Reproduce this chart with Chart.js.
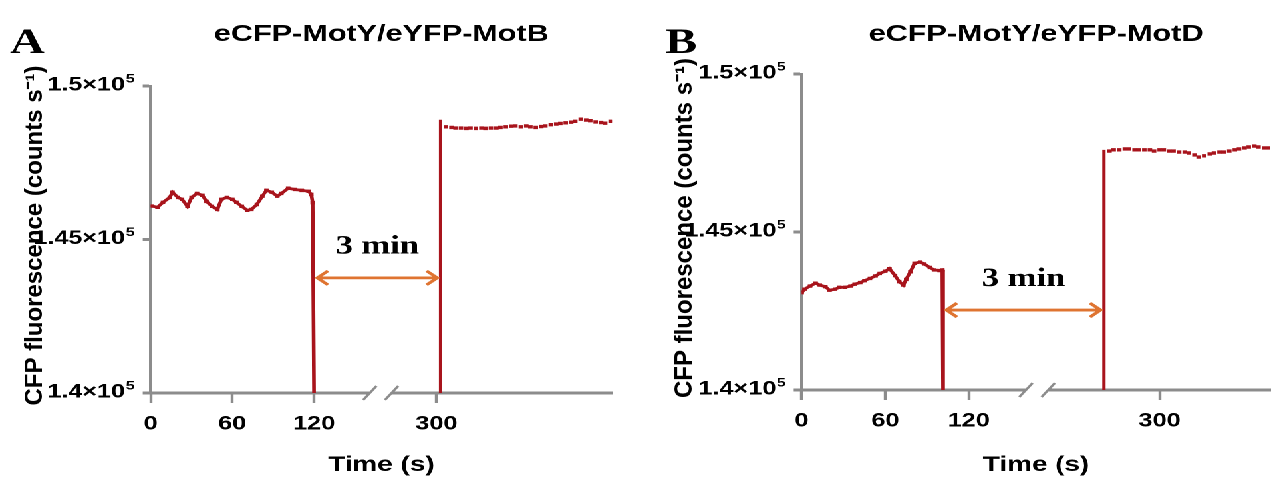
<!DOCTYPE html>
<html>
<head>
<meta charset="utf-8">
<script src="https://cdn.jsdelivr.net/npm/chart.js@4.4.1/dist/chart.umd.min.js"></script>
<style>
  html, body { margin: 0; padding: 0; background: #fff; }
  body { width: 1277px; height: 484px; overflow: hidden; position: relative; }
  /* the source figure is stretched sideways, so draw at 960 wide and widen */
  #stage { position: absolute; left: 0; top: 0; width: 960px; height: 484px;
           transform: scaleX(1.3302); transform-origin: 0 0; }
  #stage canvas { position: absolute; top: 0; width: 480px; height: 484px; }
  #chartA { left: 0; }
  #chartB { left: 480px; }
</style>
</head>
<body>
<div id="stage">
  <canvas id="chartA" width="480" height="484"></canvas>
  <canvas id="chartB" width="480" height="484"></canvas>
</div>
<script>
// ─────────────────────────────────────────────────────────────
// Data (time in s, CFP fluorescence in counts/s)
// ─────────────────────────────────────────────────────────────
const xTickTimes = [0, 60, 120, 300];
const yTickValues = [140000, 145000, 150000];
const yTickLabels = ['1.4×10', '1.45×10', '1.5×10'];
const yTickExponent = '5';

// Panel A: eCFP-MotY/eYFP-MotB
const timesA1 = [1, 5, 9, 14, 16, 20, 23, 27, 30, 34, 38, 41, 45, 49, 52, 56, 60, 63, 67, 71,
                 74, 78, 82, 85, 89, 93, 96, 101, 106, 111, 116, 118, 119];
const valuesA1 = [146090, 146050, 146210, 146370, 146540, 146370, 146310, 146080, 146370, 146500,
                  146440, 146240, 146080, 145980, 146310, 146370, 146310, 146210, 146080, 145950,
                  145980, 146140, 146410, 146600, 146540, 146410, 146500, 146670, 146630, 146600,
                  146570, 146470, 146200];
const timesA2 = [307, 311, 314, 318, 322, 325, 329, 333, 336, 340, 344, 347, 351, 355, 358, 362, 366,
                 369, 373, 377, 380, 384, 388, 391, 395, 399, 402, 406, 410, 413, 417, 421, 424, 428];
const valuesA2 = [148670, 148650, 148630, 148630, 148620, 148630, 148620, 148630, 148620, 148630,
                  148630, 148650, 148670, 148690, 148700, 148670, 148700, 148670, 148650, 148680,
                  148700, 148740, 148760, 148780, 148800, 148820, 148850, 148920, 148890, 148870,
                  148830, 148810, 148790, 148850];
const dropTimeA = 120;
const jumpTimeA = 303;
const jumpTopA = 148900;
const arrowValueA = 143750;

// Panel B: eCFP-MotY/eYFP-MotD
const timesB1 = [0, 2, 6, 10, 13, 17, 20, 24, 27, 31, 35, 38, 42, 45, 49, 53, 56, 60, 63, 67,
                 70, 73, 75, 78, 81, 85, 88, 92, 95, 99, 101];
const valuesB1 = [143080, 143190, 143290, 143380, 143320, 143270, 143160, 143190, 143250, 143250,
                  143290, 143350, 143400, 143460, 143530, 143610, 143690, 143760, 143840, 143620,
                  143430, 143320, 143500, 143740, 144010, 144050, 143990, 143880, 143800, 143780,
                  143800];
const timesB2 = [264, 267, 271, 275, 278, 282, 285, 289, 293, 296, 300, 303, 307, 310, 314, 318, 321,
                 325, 328, 332, 336, 339, 343, 346, 350, 354, 357, 361, 364, 368, 371, 375, 378];
const valuesB2 = [147560, 147600, 147600, 147630, 147630, 147600, 147600, 147600, 147600, 147560,
                  147600, 147600, 147560, 147560, 147530, 147530, 147500, 147440, 147370, 147410,
                  147470, 147500, 147530, 147530, 147560, 147600, 147630, 147660, 147690, 147720,
                  147690, 147660, 147660];
const dropTimeB = 101.5;
const jumpTimeB = 260;
const jumpTopB = 147600;
const arrowValueB = 142530;

// ─────────────────────────────────────────────────────────────
// Look
// ─────────────────────────────────────────────────────────────
const STRETCH = 1277 / 960;
const RED = '#a8141c';
const GREY = '#8c8c8c';
const ORANGE = '#df7431';
const SANS = '"Liberation Sans", Arial, sans-serif';
const SERIF = '"Liberation Serif", "Times New Roman", serif';
const BREAK_AT = 150;          // times past this sit after the axis break
const BREAK_MARKS = [161, 177]; // axis units of the two slashes

Chart.defaults.font.family = SANS;
Chart.defaults.color = '#000';

// map a real time onto the broken axis
function toAxis(t, shift) {
    return t >= BREAK_AT ? t - shift : t;
}

function points(times, values, shift) {
    return times.map((t, i) => ({ x: toAxis(t, shift), y: values[i] }));
}

// y labels with a real superscript, break slashes, "3 min" arrow,
// panel letter and the y title
const decor = {
    id: 'decor',
    afterDraw(chart, args, o) {
        const { ctx, chartArea, scales: { x, y } } = chart;
        ctx.save();
        ctx.fillStyle = '#000';

        // y tick labels: mantissa×10 plus raised exponent
        const xr = chartArea.left - 12;
        yTickValues.forEach((v, i) => {
            const yp = y.getPixelForValue(v);
            ctx.textAlign = 'right';
            ctx.textBaseline = 'alphabetic';
            ctx.font = 'bold 12px ' + SANS;
            const supW = ctx.measureText(yTickExponent).width;
            ctx.fillText(yTickExponent, xr, yp - 3.5);
            ctx.font = 'bold 19px ' + SANS;
            ctx.fillText(yTickLabels[i], xr - supW - 0.5, yp + 4.5);
        });

        // axis break
        const yb = chartArea.bottom;
        const [b1, b2] = BREAK_MARKS.map(v => x.getPixelForValue(v));
        ctx.fillStyle = '#fff';
        ctx.fillRect(b1, yb - 3, b2 - b1, 6);
        ctx.strokeStyle = GREY;
        ctx.lineWidth = 2;
        [b1, b2].forEach(px => {
            ctx.beginPath();
            ctx.moveTo(px - 5, yb + 7);
            ctx.lineTo(px + 5, yb - 7);
            ctx.stroke();
        });

        // double arrow between the two jumps
        const ax1 = x.getPixelForValue(o.arrowFrom) + 2.5;
        const ax2 = x.getPixelForValue(o.arrowTo) - 2.5;
        const ay = y.getPixelForValue(o.arrowValue);
        ctx.strokeStyle = ORANGE;
        ctx.lineWidth = 2.8;
        ctx.beginPath();
        ctx.moveTo(ax1, ay); ctx.lineTo(ax2, ay);
        ctx.moveTo(ax1 + 8, ay - 7); ctx.lineTo(ax1, ay); ctx.lineTo(ax1 + 8, ay + 7);
        ctx.moveTo(ax2 - 8, ay - 7); ctx.lineTo(ax2, ay); ctx.lineTo(ax2 - 8, ay + 7);
        ctx.stroke();

        ctx.fillStyle = '#000';
        ctx.font = 'bold 26px ' + SERIF;
        ctx.textAlign = 'center';
        ctx.textBaseline = 'middle';
        ctx.fillText('3 min', (ax1 + ax2) / 2, ay - 31);

        // panel letter
        ctx.font = 'bold 36px ' + SERIF;
        ctx.textAlign = 'left';
        ctx.textBaseline = 'alphabetic';
        ctx.fillText(o.letter, o.letterX, 53);

        // y title, not widened like the rest
        ctx.translate(o.yTitleX, (chartArea.top + chartArea.bottom) / 2 - 4);
        ctx.scale(1 / STRETCH, 1);
        ctx.rotate(-Math.PI / 2);
        ctx.font = 'bold 24px ' + SANS;
        ctx.textAlign = 'center';
        ctx.fillText('CFP fluorescence (counts s⁻¹)', 0, 0);

        ctx.restore();
    }
};

function makePanel(id, p) {
    const ctx = document.getElementById(id).getContext('2d');
    const left = points(p.times1, p.values1, p.shift);
    left.push({ x: p.dropTime, y: 140000 });
    const jumpX = toAxis(p.jumpTime, p.shift);

    return new Chart(ctx, {
        type: 'line',
        data: {
            datasets: [{
                data: left,
                borderColor: RED,
                backgroundColor: RED,
                borderWidth: 2.8,
                pointStyle: 'rect',
                pointRadius: c => c.dataIndex < p.times1.length ? 1.7 : 0,
                pointBorderWidth: 1,
                tension: 0
            }, {
                data: [{ x: jumpX, y: 140000 }, { x: jumpX, y: p.jumpTop }],
                borderColor: RED,
                borderWidth: 2.5,
                pointRadius: 0
            }, {
                data: points(p.times2, p.values2, p.shift),
                showLine: false,
                borderColor: RED,
                backgroundColor: RED,
                pointStyle: 'rect',
                pointRadius: 1.7,
                pointBorderWidth: 1
            }]
        },
        options: {
            responsive: false,
            devicePixelRatio: 2,
            animation: false,
            layout: { padding: { left: 0, right: 480 - p.right, top: 0, bottom: 0 } },
            plugins: {
                legend: { display: false },
                tooltip: { enabled: false },
                title: {
                    display: true,
                    text: p.title,
                    fullSize: false,
                    color: '#000',
                    font: { size: 23, weight: 'bold' },
                    padding: { top: 21, bottom: p.top - 21 - 27.6 }
                },
                decor: {
                    letter: p.letter,
                    letterX: p.letterX,
                    yTitleX: p.yTitleX,
                    arrowFrom: p.dropTime,
                    arrowTo: jumpX,
                    arrowValue: p.arrowValue
                }
            },
            scales: {
                x: {
                    type: 'linear',
                    min: 0,
                    max: p.max,
                    afterBuildTicks: s => { s.ticks = xTickTimes.map(t => ({ value: toAxis(t, p.shift) })); },
                    afterFit: s => { s.height = 484 - p.bottom; },
                    ticks: {
                        autoSkip: false,
                        maxRotation: 0,
                        padding: 10,
                        font: { size: 19, weight: 'bold' },
                        callback: (v, i) => String(xTickTimes[i])
                    },
                    grid: { drawOnChartArea: false, tickLength: 10, tickColor: GREY, tickWidth: 2.2 },
                    border: { color: GREY, width: 3 },
                    title: {
                        display: true,
                        text: 'Time (s)',
                        font: { size: 21, weight: 'bold' },
                        padding: { top: 0, bottom: 6 }
                    }
                },
                y: {
                    min: 140000,
                    max: 150000,
                    afterBuildTicks: s => { s.ticks = yTickValues.map(v => ({ value: v })); },
                    afterFit: s => { s.width = p.left; },
                    ticks: { display: false },
                    grid: { drawOnChartArea: false, tickLength: 6, tickColor: GREY, tickWidth: 3 },
                    border: { color: GREY, width: 2.3 }
                }
            }
        },
        plugins: [decor]
    });
}

makePanel('chartA', {
    title: 'eCFP-MotY/eYFP-MotB', letter: 'A', letterX: 7.5, yTitleX: 31.6,
    times1: timesA1, values1: valuesA1, times2: timesA2, values2: valuesA2,
    dropTime: dropTimeA, jumpTime: jumpTimeA, jumpTop: jumpTopA, arrowValue: arrowValueA,
    shift: 90, max: 339, left: 113.3, right: 460.1, top: 86, bottom: 393
});

makePanel('chartB', {
    title: 'eCFP-MotY/eYFP-MotD', letter: 'B', letterX: 20, yTitleX: 40.2,
    times1: timesB1, values1: valuesB1, times2: timesB2, values2: valuesB2,
    dropTime: dropTimeB, jumpTime: jumpTimeB, jumpTop: jumpTopB, arrowValue: arrowValueB,
    shift: 43, max: 336.5, left: 122.7, right: 476.3, top: 74, bottom: 390
});
</script>
</body>
</html>
